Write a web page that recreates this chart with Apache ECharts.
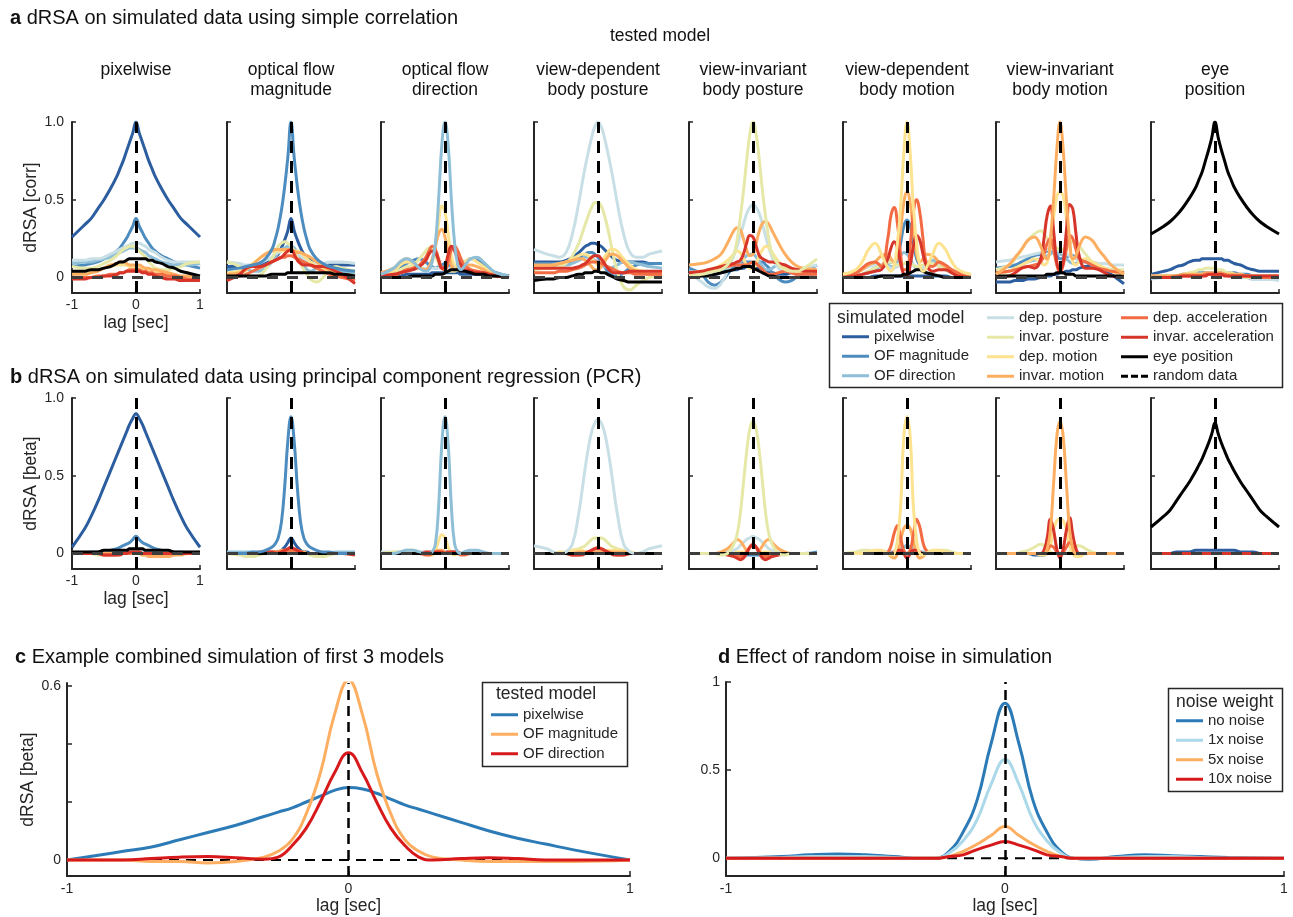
<!DOCTYPE html>
<html><head><meta charset="utf-8">
<script src="https://cdn.jsdelivr.net/npm/echarts/dist/echarts.min.js"></script>
<style>html,body{margin:0;padding:0;background:#fff;overflow:hidden}#chart{width:1293px;height:917px}</style>
</head><body><div id="chart"></div>
<script>
// ---------------- DATA ----------------
const lags = [-1,-0.8,-0.7,-0.6,-0.5,-0.4,-0.3,-0.25,-0.2,-0.15,-0.1,-0.05,0,0.05,0.1,0.15,0.2,0.25,0.3,0.4,0.5,0.6,0.7,0.8,1];
const modelNames = ['pixelwise','OF magnitude','OF direction','dep. posture','invar. posture','dep. motion','invar. motion','dep. acceleration','invar. acceleration','eye position'];
const modelColors = ['#2c5d9f','#4d8cbf','#8ebfd6','#c8dfe6','#e6e8a7','#fde38f','#fdae61','#f26b43','#d8352a','#000000'];
const testedIndex = [0,1,2,3,4,5,6,9];
const panelTitles = ['pixelwise','optical flow\nmagnitude','optical flow\ndirection','view-dependent\nbody posture','view-invariant\nbody posture','view-dependent\nbody motion','view-invariant\nbody motion','eye\nposition'];
const xTicks = [-1,0,1];
const yTicksSmall = [0,0.5,1];
const yTicksC = [0,0.2,0.4,0.6];
const yLabelsC = [0,0.6];
const yTicksD = [0,0.5,1];
const nearZero = [0,0,0,0,0, 0,0,0,0,0, 0,0,0,0,0, 0,0,0,0,0, 0,0,0,0,0];
const randomCorr = [0,0,0,0,0, 0,0,0,0,0, 0,0,0,0,0, 0,0,0,0,0, 0,0,0,0,0];
const randomPcr = [0,0,0,0,0, 0,0,0,0,0, 0,0,0,0,0, 0,0,0,0,0, 0,0,0,0,0];

// a) simple correlation, one array per tested model; rows = simulated models
const corr1 = [
 [.26,.34,.38,.44,.50, .57,.65,.70,.75,.81, .87,.93,1.0,.93,.87, .81,.75,.70,.65,.57, .50,.44,.38,.34,.26],
 [.07,.08,.09,.10,.12, .14,.17,.19,.22,.25, .29,.33,.38,.33,.29, .25,.22,.19,.17,.14, .12,.10,.09,.08,.06],
 [.09,.10,.10,.11,.12, .13,.15,.16,.17,.18, .19,.19,.19,.18,.17, .16,.14,.13,.12,.10, .09,.08,.08,.08,.09],
 [.11,.11,.12,.12,.13, .15,.17,.18,.19,.20, .21,.22,.22,.22,.21, .20,.18,.17,.16,.13, .11,.10,.10,.10,.10],
 [.07,.06,.06,.07,.09, .11,.14,.16,.18,.19, .20,.20,.19,.17,.15, .13,.10,.08,.06,.05, .05,.06,.07,.09,.10],
 [.04,.04,.05,.05,.06, .07,.08,.08,.08,.08, .07,.07,.06,.06,.06, .06,.05,.05,.04,.03, .02,.01,.00,.00,.00],
 [.02,.02,.03,.04,.06, .08,.09,.10,.10,.09, .08,.08,.08,.08,.07, .06,.06,.05,.05,.04, .03,.02,.01,.01,.01],
 [.00,.00,.00,.01,.01, .02,.02,.03,.03,.04, .05,.05,.05,.05,.04, .04,.03,.03,.02,.02, .01,.01,.00,-.01,-.02],
 [-.01,-.01,.00,.00,.01, .01,.02,.03,.03,.04, .04,.04,.04,.04,.03, .03,.02,.02,.01,.00, -.01,-.01,-.02,-.02,-.02],
 [.04,.04,.05,.05,.06, .07,.09,.10,.10,.11, .12,.12,.12,.12,.12, .12,.11,.11,.10,.09, .07,.06,.04,.03,.01]
];
const corr2 = [
 [.07,.07,.07,.08,.08, .09,.11,.13,.15,.19, .24,.30,.38,.30,.24, .19,.15,.13,.11,.09, .08,.08,.08,.08,.08],
 [.05,.06,.07,.08,.09, .12,.18,.24,.32,.43, .58,.77,1.0,.77,.58, .43,.32,.24,.18,.12, .09,.07,.06,.05,.04],
 [.10,.08,.06,.04,.04, .06,.10,.13,.16,.18, .19,.20,.20,.19,.16, .12,.08,.05,.04,.06, .08,.07,.05,.04,.03],
 [.10,.09,.08,.08,.09, .11,.13,.15,.16,.17, .18,.18,.18,.17,.16, .14,.12,.11,.10,.09, .09,.10,.10,.10,.09],
 [.10,.07,.03,.00,.01, .05,.12,.16,.20,.22, .23,.22,.20,.17,.13, .09,.05,.02,-.01,-.03, .00,.05,.07,.06,.04],
 [.03,.04,.06,.09,.12, .15,.17,.17,.17,.17, .17,.17,.17,.17,.17, .16,.14,.12,.10,.07, .05,.03,.02,.01,.00],
 [.02,.03,.05,.08,.12, .15,.17,.18,.18,.18, .18,.18,.17,.17,.16, .16,.15,.14,.13,.10, .07,.05,.03,.02,.00],
 [.00,.01,.02,.04,.06, .08,.10,.11,.12,.13, .13,.14,.14,.13,.12, .11,.10,.09,.08,.06, .04,.02,.01,.00,-.02],
 [-.02,.02,.06,.07,.07, .08,.10,.11,.12,.13, .15,.17,.18,.15,.11, .09,.08,.08,.08,.07, .07,.06,.04,.02,-.04],
 [.01,.01,.01,.01,.01, .01,.02,.02,.02,.02, .02,.03,.03,.03,.03, .03,.03,.03,.03,.03, .03,.03,.02,.02,.01]
];
const corr3 = [
 [.01,.01,.01,.02,.02, .02,.02,.02,.03,.03, .03,.03,.03,.03,.03, .03,.03,.02,.02,.02, .02,.02,.01,.01,.01],
 [.01,.03,.06,.09,.11, .12,.10,.08,.07,.06, .07,.08,.09,.08,.07, .07,.08,.09,.10,.12, .11,.08,.05,.03,.01],
 [.02,.06,.10,.12,.10, .06,.04,.05,.10,.22, .50,.85,1.0,.85,.50, .22,.08,.05,.07,.12, .13,.10,.06,.03,.01],
 [.01,.02,.03,.04,.05, .06,.06,.06,.06,.06, .06,.06,.06,.06,.06, .06,.06,.06,.06,.05, .04,.03,.02,.02,.01],
 [.00,.02,.05,.07,.08, .12,.17,.19,.18,.14, .09,.06,.05,.04,.04, .04,.05,.05,.05,.04, .03,.02,.01,.01,.00],
 [.02,.04,.08,.10,.09, .06,.05,.06,.10,.20, .35,.46,.42,.28,.14, .08,.07,.08,.10,.12, .10,.07,.04,.02,.01],
 [.03,.06,.10,.12,.10, .06,.05,.07,.12,.20, .28,.31,.26,.16,.08, .05,.06,.07,.08,.08, .07,.05,.03,.02,.00],
 [.00,.01,.03,.05,.06, .08,.13,.17,.20,.18, .12,.06,.05,.10,.18, .20,.17,.12,.08,.05, .04,.03,.02,.01,.00],
 [.01,.02,.03,.04,.05, .07,.11,.15,.17,.16, .11,.06,.07,.15,.20, .17,.12,.08,.05,.04, .03,.03,.02,.01,.00],
 [.00,.00,.00,.00,.01, .01,.01,.01,.01,.02, .02,.02,.03,.04,.05, .05,.05,.04,.04,.03, .02,.02,.01,.01,.01]
];
const corr4 = [
 [.10,.10,.10,.10,.11, .13,.16,.18,.20,.21, .22,.22,.21,.20,.18, .16,.14,.12,.11,.10, .10,.10,.10,.09,.09],
 [.09,.09,.09,.09,.09, .10,.12,.14,.15,.16, .16,.15,.13,.10,.07, .04,.02,.01,.01,.03, .06,.08,.09,.09,.09],
 [.06,.07,.07,.08,.08, .09,.11,.12,.13,.13, .12,.11,.10,.08,.07, .06,.06,.07,.08,.10, .10,.09,.08,.07,.06],
 [.18,.15,.14,.13,.16, .28,.48,.60,.71,.81, .90,.97,1.0,.97,.90, .81,.71,.60,.48,.28, .16,.13,.13,.15,.17],
 [.05,.06,.06,.07,.09, .14,.22,.28,.34,.40, .45,.48,.48,.46,.40, .32,.22,.12,.04,-.06, -.08,-.05,-.02,.00,.01],
 [.07,.07,.08,.09,.10, .12,.14,.15,.15,.14, .12,.10,.08,.10,.13, .16,.18,.18,.17,.12, .08,.05,.04,.03,.03],
 [.08,.08,.08,.09,.10, .11,.12,.12,.11,.09, .07,.05,.05,.07,.10, .13,.15,.15,.14,.10, .06,.04,.03,.02,.02],
 [.03,.03,.03,.04,.04, .05,.06,.07,.08,.09, .10,.10,.10,.09,.08, .07,.06,.05,.04,.03, .03,.02,.02,.02,.02],
 [.06,.06,.06,.06,.06, .06,.07,.08,.09,.11, .13,.14,.14,.12,.09, .06,.04,.03,.03,.03, .04,.04,.04,.04,.04],
 [-.02,-.01,-.01,.00,.00, .01,.02,.02,.03,.03, .03,.04,.04,.03,.03, .02,.01,.00,-.01,-.02, -.03,-.03,-.03,-.03,-.03]
];
const corr5 = [
 [.05,.03,.02,.02,.03, .04,.05,.05,.06,.06, .07,.07,.07,.06,.06, .05,.04,.03,.03,.02, .02,.03,.03,.04,.04],
 [.06,.02,-.03,-.05,-.03, .02,.07,.09,.10,.10, .10,.10,.10,.10,.10, .10,.08,.06,.03,-.01, -.03,-.02,.01,.04,.08],
 [.04,.03,.02,.03,.04, .06,.08,.09,.10,.12, .14,.15,.15,.13,.10, .07,.05,.05,.06,.08, .07,.04,.02,.01,.01],
 [.03,-.03,-.06,-.07,-.04, .04,.14,.20,.27,.34, .41,.45,.47,.45,.41, .34,.26,.19,.13,.06, .04,.04,.05,.06,.08],
 [.01,.02,.03,.04,.05, .08,.15,.24,.38,.55, .75,.92,1.0,.92,.75, .55,.38,.24,.15,.08, .05,.04,.04,.06,.12],
 [.03,.04,.05,.06,.08, .11,.15,.17,.16,.12, .08,.06,.06,.09,.14, .18,.20,.19,.16,.10, .06,.04,.03,.03,.02],
 [.08,.09,.10,.12,.15, .22,.30,.32,.31,.25, .18,.14,.15,.22,.30, .35,.36,.34,.30,.22, .15,.10,.07,.06,.05],
 [.02,.03,.04,.05,.06, .07,.08,.08,.08,.08, .08,.09,.10,.09,.07, .05,.03,.02,.02,.03, .04,.03,.02,.02,.02],
 [.03,.04,.05,.06,.07, .08,.09,.10,.11,.15, .22,.27,.26,.20,.14, .12,.11,.10,.10,.09, .08,.06,.05,.04,.04],
 [.00,.01,.01,.02,.03, .04,.05,.06,.06,.07, .07,.07,.06,.05,.04, .03,.02,.01,.01,.00, .00,.00,.00,.00,.00]
];
const corr6 = [
 [.00,.00,.00,.00,.01, .01,.01,.01,.01,.01, .01,.01,.01,.01,.01, .01,.01,.01,.01,.01, .01,.01,.00,.00,.00],
 [.00,.01,.02,.03,.05, .08,.10,.10,.10,.12, .22,.33,.37,.33,.22, .12,.08,.06,.07,.09, .08,.05,.03,.01,.00],
 [.00,.01,.02,.04,.06, .08,.08,.07,.07,.10, .14,.16,.15,.12,.08, .06,.06,.07,.09,.11, .10,.07,.04,.02,.01],
 [.02,.03,.05,.07,.08, .08,.07,.06,.06,.07, .08,.09,.09,.09,.08, .07,.06,.06,.07,.08, .08,.07,.05,.03,.02],
 [.00,.01,.02,.04,.06, .08,.10,.10,.09,.08, .08,.09,.10,.09,.08, .07,.07,.08,.09,.09, .07,.05,.03,.02,.01],
 [.02,.05,.10,.18,.22, .15,.06,.04,.08,.22, .45,.80,1.0,.80,.45, .22,.08,.04,.06,.15, .22,.18,.10,.05,.02],
 [.02,.03,.05,.08,.10, .14,.15,.12,.10,.15, .30,.48,.55,.48,.30, .15,.10,.12,.15,.14, .10,.07,.04,.02,.01],
 [.01,.03,.06,.09,.10, .07,.25,.40,.45,.35, .15,.05,.05,.20,.42, .50,.42,.25,.10,.07, .10,.08,.05,.03,.01],
 [.00,.01,.02,.03,.04, .05,.12,.19,.23,.19, .09,.02,.01,.08,.20, .27,.24,.15,.08,.04, .05,.05,.03,.01,.00],
 [.00,.00,.00,.00,.00, .01,.01,.01,.01,.01, .01,.02,.02,.03,.04, .05,.05,.04,.03,.02, .01,.00,.00,.00,.00]
];
const corr7 = [
 [-.03,-.03,-.02,-.02,-.01, -.01,.00,.00,.01,.01, .02,.02,.03,.03,.04, .04,.05,.05,.06,.07, .08,.07,.05,.02,-.04],
 [.06,.07,.08,.10,.12, .14,.15,.16,.17,.17, .16,.14,.12,.12,.13, .14,.14,.13,.12,.10, .08,.06,.05,.04,.03],
 [.03,.04,.06,.08,.10, .11,.12,.13,.14,.15, .16,.16,.15,.14,.12, .10,.09,.09,.10,.10, .09,.07,.06,.05,.03],
 [.10,.11,.12,.13,.14, .15,.16,.17,.18,.18, .18,.18,.17,.16,.15, .14,.13,.12,.11,.10, .10,.09,.09,.08,.08],
 [.05,.08,.12,.18,.24, .28,.30,.28,.25,.22, .20,.19,.18,.18,.20, .22,.23,.22,.20,.15, .10,.07,.06,.05,.05],
 [.02,.04,.06,.08,.10, .12,.10,.08,.10,.20, .38,.52,.55,.52,.38, .20,.10,.08,.10,.12, .10,.08,.06,.04,.02],
 [.02,.08,.13,.18,.24, .26,.20,.14,.12,.25, .50,.82,1.0,.82,.50, .25,.12,.14,.20,.26, .24,.18,.13,.08,.02],
 [.03,.04,.05,.06,.07, .08,.10,.15,.22,.25, .18,.08,.03,.08,.18, .27,.25,.18,.12,.10, .08,.06,.05,.04,.03],
 [.00,.01,.03,.06,.07, .06,.12,.25,.40,.46, .30,.10,.05,.10,.30, .47,.44,.28,.14,.06, .06,.05,.03,.01,.00],
 [.01,.01,.01,.01,.01, .01,.01,.01,.02,.02, .02,.03,.03,.03,.02, .02,.02,.01,.01,.01, .01,.01,.01,.01,.01]
];
const corr8 = [
 [.02,.04,.05,.07,.08, .10,.11,.11,.12,.12, .12,.12,.12,.12,.12, .11,.11,.10,.09,.08, .06,.05,.04,.04,.04],
 [.00,.01,.01,.01,.02, .02,.03,.03,.03,.03, .03,.03,.03,.03,.03, .03,.03,.03,.03,.02, .02,.01,.01,.01,.01],
 [.00,.00,.01,.01,.01, .02,.02,.02,.02,.02, .03,.03,.03,.03,.03, .02,.02,.02,.01,.01, .00,-.01,-.01,-.01,-.01],
 [-.01,.00,.00,.01,.01, .01,.02,.02,.02,.02, .02,.02,.02,.02,.02, .02,.02,.01,.01,.00, .00,-.01,-.01,-.01,-.02],
 [.00,.01,.01,.01,.02, .03,.04,.05,.05,.06, .06,.06,.06,.05,.05, .04,.03,.03,.02,.01, .00,.00,.00,.00,.00],
 [.01,.01,.01,.01,.01, .02,.02,.02,.02,.02, .02,.02,.02,.02,.02, .02,.02,.02,.02,.01, .01,.01,.01,.01,.01],
 [.01,.01,.01,.01,.02, .02,.02,.02,.02,.03, .03,.03,.03,.03,.03, .02,.02,.02,.02,.02, .01,.01,.01,.01,.01],
 [.00,.00,.00,.01,.01, .01,.01,.01,.01,.02, .02,.02,.02,.02,.02, .02,.01,.01,.01,.01, .01,.00,.00,.00,.00],
 [.00,.00,.00,.00,.01, .01,.01,.01,.01,.01, .02,.02,.02,.02,.02, .01,.01,.01,.01,.01, .01,.01,.01,.01,.01],
 [.28,.33,.36,.40,.45, .51,.58,.63,.68,.75, .82,.90,1.0,.90,.82, .75,.68,.63,.58,.51, .45,.40,.36,.33,.28]
];

// b) principal component regression
const pcr1 = [
 [.04,.16,.24,.33,.43, .53,.63,.68,.73,.78, .83,.87,.90,.87,.83, .78,.73,.68,.63,.53, .43,.33,.24,.16,.04],
 [.00,.00,.01,.01,.01, .02,.03,.04,.05,.06, .07,.09,.11,.09,.07, .06,.05,.04,.03,.02, .01,.01,.01,.00,.00],
 [.00,.00,.00,.00,.00, .01,.01,.01,.01,.01, .02,.02,.02,.02,.02, .01,.01,.01,.01,.00, .00,.00,.00,.00,.00],
 [.01,.01,.01,.01,.01, .01,.01,.01,.01,.01, .01,.01,.01,.01,.01, .01,.01,.01,.01,.01, .01,.01,.01,.01,.01],
 [.00,.00,.00,-.01,-.01, -.01,.00,.00,.00,.00, .00,.00,.00,.00,.00, .00,-.01,-.01,-.01,-.01, .00,.00,.00,.00,.00],
 [.00,.00,.00,.00,.00, .00,.00,.00,.00,.00, .00,.00,.00,.00,-.01, -.01,-.01,-.01,-.01,-.01, -.01,-.01,.00,.00,.00],
 [.00,.00,.00,.00,.00, .00,.00,.00,.00,.00, .00,.00,.00,.00,-.01, -.01,-.02,-.02,-.02,-.02, -.02,-.01,-.01,.00,.00],
 [.00,.00,.00,.00,-.01, -.01,-.01,.00,.00,.00, .00,.01,.01,.01,.00, .00,.00,.00,.00,.00, .00,.00,.00,.00,.00],
 [.00,.00,.00,.00,-.01, -.01,-.01,-.01,.00,.00, .01,.01,.01,.01,.00, .00,.00,.00,.00,.00, .00,.00,.00,.00,.00],
 [.01,.01,.01,.01,.02, .02,.02,.02,.02,.02, .03,.03,.03,.03,.03, .02,.02,.02,.02,.02, .02,.01,.01,.01,.01]
];
const pcr2 = [
 [.00,.00,.00,.00,.00, .00,.00,.01,.01,.02, .04,.07,.10,.07,.04, .02,.01,.01,.00,.00, .00,.00,.00,.00,.00],
 [.00,.00,.00,.01,.01, .02,.04,.06,.10,.20, .42,.72,.88,.72,.42, .20,.10,.06,.04,.02, .01,.01,.00,.00,.00],
 [.01,.01,.01,.01,.00, .00,.00,.00,.00,.00, .01,.01,.01,.01,.01, .00,.00,.00,.00,.00, .00,.00,.01,.01,.01],
 nearZero,
 [.00,-.01,-.02,-.02,-.01, .00,.00,.00,.00,.00, .00,.00,.00,.00,.00, .00,.00,.00,-.01,-.02, -.02,-.01,.00,.00,.00],
 [.00,.00,.00,.00,.00, .00,.00,.01,.01,.01, .01,.02,.02,.02,.01, .01,.00,.00,.00,.00, .00,.00,.00,.00,.00],
 [.00,.00,.00,.00,.00, .00,.01,.01,.01,.02, .02,.02,.02,.02,.02, .01,.01,.00,.00,.00, .00,.00,.00,.00,.00],
 [.00,.00,.00,.00,.01, .01,.01,.01,.01,.01, .01,.02,.02,.02,.01, .01,.00,.00,.00,.00, .00,.00,.00,.00,.00],
 [.00,.00,.00,.00,.00, .01,.01,.00,.00,.01, .02,.03,.04,.03,.02, .01,.00,.00,.00,.00, .00,.00,.00,.00,-.01],
 nearZero
];
const pcr3 = [
 nearZero,
 [.00,.00,.00,.00,.00, .00,.00,.00,.00,.01, .01,.01,.01,.01,.01, .01,.00,.00,.00,.00, .00,.00,.00,.00,.00],
 [.00,.00,.01,.02,.02, .01,.00,.00,.01,.06, .30,.70,.88,.70,.30, .06,.01,.00,.01,.02, .02,.01,.00,.00,.00],
 [.01,.01,.01,.02,.02, .01,.01,.00,.00,.00, .00,.00,.00,.00,.00, .00,.00,.00,.01,.01, .01,.00,.00,.00,.00],
 [.00,.01,.01,.02,.02, .01,.00,.00,.00,.00, .00,.00,.00,.00,.00, .00,.00,.00,.00,.00, .00,.00,.00,.00,.00],
 [.00,.00,.00,.00,.00, .00,.00,-.01,-.01,.02, .08,.12,.10,.04,.00, -.01,.00,.00,.00,.00, .00,.00,.00,.00,.00],
 [.00,.00,.00,.00,.00, .00,.00,-.01,.00,.01, .02,.02,.01,.00,.00, .00,.00,.00,.00,.00, .00,.00,.00,.00,.00],
 [.00,.00,.00,.00,.00, .00,-.01,-.01,.00,.01, .01,.00,.00,.00,.01, .01,.00,-.01,-.01,.00, .00,.00,.00,.00,.00],
 [.00,.00,.00,.00,.00, .00,.01,.01,.01,.01, .01,.01,.00,.01,.01, .01,.01,.00,.00,.00, .00,.00,.00,.00,.00],
 nearZero
];
const pcr4 = [
 nearZero, nearZero, nearZero,
 [.05,.03,.01,.00,.01, .06,.26,.40,.55,.68, .78,.84,.86,.84,.78, .68,.55,.40,.26,.06, .01,.00,.01,.03,.05],
 [.00,.00,.00,.00,.01, .02,.03,.04,.05,.07, .09,.10,.10,.10,.09, .07,.05,.04,.03,.02, .01,.00,.00,.00,.00],
 [.00,.00,.00,.01,.01, .02,.02,.02,.01,.01, .00,.00,.00,.00,.01, .02,.02,.02,.02,.01, .01,.00,.00,.00,.00],
 [.00,.00,.00,.00,.00, .00,.01,.01,.01,.01, .01,.01,.01,.01,.01, .01,.01,.01,.01,.01, .00,.00,.00,.00,.00],
 [.00,.00,.00,.00,.00, -.01,-.01,.00,.00,.01, .02,.03,.04,.03,.02, .01,.00,.00,-.01,-.01, .00,.00,.00,.00,.00],
 [.00,.00,.00,.00,.00, -.01,-.01,-.01,.00,.01, .02,.03,.03,.03,.02, .01,.00,-.01,-.01,-.01, .00,.00,.00,.00,.00],
 nearZero
];
const pcr5 = [
 nearZero,
 [.00,.00,.00,.00,.00, .00,-.01,-.01,-.01,-.01, -.01,-.01,-.01,-.01,-.01, -.01,-.01,-.01,-.01,.00, .00,.00,.00,.00,.01],
 nearZero,
 [.00,.00,.00,.00,.00, .01,.02,.03,.05,.07, .09,.10,.11,.10,.09, .07,.05,.03,.02,.01, .00,.00,.00,.00,.00],
 [.00,.00,.00,.00,-.01, .00,.06,.12,.25,.45, .65,.80,.85,.80,.65, .45,.25,.12,.06,.00, -.01,.00,.00,.00,.00],
 [.00,.00,.00,.00,.00, .00,.00,.01,.01,.01, .00,.00,.00,.00,.00, .01,.01,.01,.00,.00, .00,.00,.00,.00,.00],
 [.00,.00,.00,.00,.01, .03,.07,.09,.08,.05, .02,.00,.00,.00,.02, .05,.08,.09,.07,.03, .01,.00,.00,.00,.00],
 [.00,.00,.00,.00,.00, .00,-.01,-.02,-.02,-.01, .01,.04,.05,.04,.01, -.01,-.02,-.02,-.01,.00, .00,.00,.00,.00,.00],
 [.00,.00,.00,.00,.00, -.01,-.02,-.03,-.04,-.03, .00,.04,.06,.04,.00, -.03,-.04,-.03,-.02,-.01, .00,.00,.00,.00,.00],
 nearZero
];
const pcr6 = [
 nearZero,
 [.00,.00,.00,.00,.00, .00,.00,.00,.00,.01, .02,.04,.05,.04,.02, .01,.00,.00,.00,.00, .00,.00,.00,.00,.00],
 [.00,.00,.00,.00,.00, .01,.01,.01,.01,.02, .03,.04,.05,.04,.03, .02,.01,.01,.00,.00, .00,.00,.00,.00,.00],
 nearZero,
 [.00,.01,.02,.02,.01, .00,.00,.00,.00,.00, .00,.00,.00,.00,.00, .00,.00,.00,.00,.01, .02,.02,.01,.00,.00],
 [.00,.00,.00,.01,.02, .02,.00,-.01,.00,.08, .30,.75,.88,.75,.30, .08,.00,-.01,.00,.02, .02,.01,.00,.00,.00],
 [.00,.00,.00,.00,.00, .00,.00,-.02,-.03,.00, .08,.16,.18,.16,.08, .00,-.03,-.02,.00,.00, .00,.00,.00,.00,.00],
 [.00,.00,.00,.00,.00, .00,.01,.05,.13,.18, .10,.02,.00,.02,.12, .22,.17,.07,.02,.00, .00,.00,.00,.00,.00],
 [.00,.00,.00,.00,.00, .00,.00,.00,.01,.02, .02,.00,-.03,.00,.02, .02,.01,.00,.00,.00, .00,.00,.00,.00,.00],
 nearZero
];
const pcr7 = [
 [.00,.00,.00,.00,.00, -.01,-.01,-.01,.00,.00, .00,.00,.00,.00,.00, .00,.00,.00,.00,.00, .00,.00,.00,.00,.00],
 nearZero, nearZero, nearZero,
 [.00,.00,.00,.01,.02, .04,.06,.05,.03,.01, .00,.00,.00,.00,.00, .01,.03,.05,.05,.03, .01,.00,.00,.00,.00],
 [.00,.00,.00,.00,.00, .00,-.01,-.01,.00,.05, .15,.21,.22,.21,.15, .05,.00,-.02,-.02,.00, .00,.00,.00,.00,.00],
 [.00,.00,.00,.00,.00, .00,.00,.00,.03,.15, .45,.75,.85,.75,.45, .15,.03,.00,.00,.00, .00,.00,.00,.00,.00],
 [.00,.00,.00,.00,.00, .00,.00,.00,.02,.05, .04,.01,.00,.01,.04, .07,.05,.02,.00,.00, .00,.00,.00,.00,.00],
 [.00,.00,.00,.00,.00, .00,.00,.02,.10,.22, .15,.03,-.03,.03,.15, .23,.12,.03,.00,.00, .00,.00,.00,.00,.00],
 nearZero
];
const pcr8 = [
 [.00,.00,.00,.01,.01, .01,.02,.02,.02,.02, .02,.02,.02,.02,.02, .02,.02,.02,.02,.01, .01,.01,.00,.00,.00],
 nearZero, nearZero, nearZero, nearZero, nearZero, nearZero, nearZero, nearZero,
 [.17,.24,.28,.34,.40, .46,.53,.57,.61,.66, .71,.77,.84,.77,.71, .66,.61,.57,.53,.46, .40,.34,.28,.24,.17]
];

// c) combined simulation of first 3 models
const combinedNames = ['pixelwise','OF magnitude','OF direction'];
const combinedColors = ['#2c7bb6','#fdae61','#d7191c'];
const combinedPixelwise = [.00,.03,.045,.07,.095, .12,.15,.165,.18,.20, .22,.24,.25,.245,.23, .21,.19,.175,.16,.13, .10,.075,.055,.035,.00];
const combinedOFmag = [.00,.00,-.005,-.005,-.01, -.005,.01,.03,.07,.16, .30,.50,.62,.50,.30, .16,.07,.03,.01,.00, -.005,-.005,-.005,-.005,.00];
const combinedOFdir = [.00,.00,.005,.01,.012, .008,.003,.01,.05,.11, .20,.30,.37,.30,.20, .11,.05,.01,.00,.005, .008,.005,.00,.00,.00];
const combinedRandom = [0,0,0,0,0, 0,0,0,0,0, 0,0,0,0,0, 0,0,0,0,0, 0,0,0,0,0];

// d) effect of random noise
const noiseNames = ['no noise','1x noise','5x noise','10x noise'];
const noiseColors = ['#2c7bb6','#abd9e9','#fdae61','#d7191c'];
const noNoise = [.00,.01,.02,.025,.02, .01,.00,.00,.04,.15, .33,.65,.88,.65,.33, .15,.04,.00,-.005,.01, .02,.015,.01,.005,.00];
const noise1x = [.00,.005,.01,.01,.01, .005,.00,.00,.03,.10, .22,.42,.56,.42,.22, .10,.03,.00,.00,.005, .01,.01,.005,.00,.00];
const noise5x = [.00,.00,.00,.00,.00, .00,.00,.00,.01,.04, .08,.13,.18,.13,.08, .04,.01,.00,.00,.00, .00,.00,.00,.00,.00];
const noise10x = [.00,.00,.00,.00,.00, .00,.00,.00,.01,.02, .05,.075,.095,.075,.05, .02,.01,.00,.00,.00, .00,.00,.00,.00,.00];
const noiseRandom = [0,0,0,0,0, 0,0,0,0,0, 0,0,0,0,0, 0,0,0,0,0, 0,0,0,0,0];

// ---------------- LAYOUT / BUILD ----------------
const FONT = '"Liberation Sans", Arial, Helvetica, sans-serif';
const AX = '#262626';
const TXT = '#111111';
const panelLeft = [72,227,381,534,689,843,996,1151];
const panelW = 128, rowH = 171, rowTop = [122, 398];
const corrPanels = [corr1,corr2,corr3,corr4,corr5,corr6,corr7,corr8];
const pcrPanels = [pcr1,pcr2,pcr3,pcr4,pcr5,pcr6,pcr7,pcr8];

const grids = [], xAxes = [], yAxes = [], series = [];

function pts(vals){ return lags.map((x,k)=>[x, vals[k]]); }
function lineSer(g, name, color, vals, width){
  return {type:'line', name, xAxisIndex:g, yAxisIndex:g, data:pts(vals), showSymbol:false, symbol:'none',
    smooth:0.45, lineStyle:{color, width}, itemStyle:{color}, silent:true, animation:false, z:2};
}
function zeroMark(g, width, dash){
  return {type:'line', name:'_zero', xAxisIndex:g, yAxisIndex:g, data:[], silent:true, animation:false, z:4,
    markLine:{silent:true, symbol:['none','none'], label:{show:false}, animation:false,
      lineStyle:{color:'#000', width, type:dash}, emphasis:{disabled:true}, data:[{xAxis:0}]}};
}
function axisCommon(){ return {axisLine:{show:true, onZero:false, lineStyle:{color:AX, width:2}}, splitLine:{show:false}}; }
const tickFont = 14, nameFont = 17.5;

for (let r=0;r<2;r++){
  for (let p=0;p<8;p++){
    const g = grids.length;
    const first = p===0;
    grids.push({left:panelLeft[p], top:rowTop[r], width:panelW, height:rowH, containLabel:false});
    xAxes.push(Object.assign(axisCommon(), {gridIndex:g, type:'value', min:-1, max:1,
      axisTick:{show:true, inside:true, length:4, customValues:xTicks, lineStyle:{color:AX, width:1.5}},
      axisLabel:{show:first, customValues:xTicks, color:AX, fontSize:tickFont, fontFamily:FONT, margin:5, formatter:v=>String(v)},
      name:first?'lag [sec]':'', nameLocation:'middle', nameGap:21, nameTextStyle:{color:AX, fontSize:nameFont, fontFamily:FONT}}));
    yAxes.push(Object.assign(axisCommon(), {gridIndex:g, type:'value', min:-0.1, max:1,
      axisTick:{show:true, inside:true, length:4, customValues:yTicksSmall, lineStyle:{color:AX, width:1.5}},
      axisLabel:{show:first, customValues:yTicksSmall, color:AX, fontSize:tickFont, fontFamily:FONT, margin:8,
        formatter:v=> v===1?'1.0':String(v)},
      name:first?(r===0?'dRSA [corr]':'dRSA [beta]'):'', nameLocation:'middle', nameGap:32, nameRotate:90,
      nameTextStyle:{color:AX, fontSize:nameFont, fontFamily:FONT}}));
    const data = r===0 ? corrPanels[p] : pcrPanels[p];
    const tested = testedIndex[p];
    const order = [];
    for (let i=0;i<9;i++) if (i!==tested) order.push(i);
    if (tested!==9) order.push(9);
    order.push(tested);
    order.forEach(i => series.push(lineSer(g, modelNames[i], modelColors[i], data[i], 3)));
    const rnd = lineSer(g, 'random data', '#3c3c3c', r===0?randomCorr:randomPcr, 3);
    rnd.lineStyle.type = [11,9]; rnd.z = 3; rnd.smooth = false;
    series.push(rnd);
    series.push(zeroMark(g, 3, [12,8]));
  }
}

// panel c
{
  const g = grids.length;
  grids.push({left:67, top:683, width:563, height:193});
  xAxes.push(Object.assign(axisCommon(), {gridIndex:g, type:'value', min:-1, max:1,
    axisTick:{show:true, inside:true, length:5, customValues:xTicks, lineStyle:{color:AX, width:1.5}},
    axisLabel:{show:true, customValues:xTicks, color:AX, fontSize:tickFont, fontFamily:FONT, margin:6, formatter:v=>String(v)},
    name:'lag [sec]', nameLocation:'middle', nameGap:21, nameTextStyle:{color:AX, fontSize:nameFont, fontFamily:FONT}}));
  yAxes.push(Object.assign(axisCommon(), {gridIndex:g, type:'value', min:-0.055, max:0.61,
    axisTick:{show:true, inside:true, length:5, customValues:yTicksC, lineStyle:{color:AX, width:1.5}},
    axisLabel:{show:true, customValues:yLabelsC, color:AX, fontSize:tickFont, fontFamily:FONT, margin:6, formatter:v=>String(v)},
    name:'dRSA [beta]', nameLocation:'middle', nameGap:28, nameRotate:90, nameTextStyle:{color:AX, fontSize:nameFont, fontFamily:FONT}}));
  const rnd = lineSer(g, 'random data', '#000', combinedRandom, 2); rnd.lineStyle.type=[10,7]; rnd.smooth=false;
  series.push(rnd);
  [combinedPixelwise, combinedOFmag, combinedOFdir].forEach((v,i)=> series.push(lineSer(g, combinedNames[i], combinedColors[i], v, 3)));
  series.push(zeroMark(g, 2.5, [10,6]));
}
// panel d
{
  const g = grids.length;
  grids.push({left:726, top:682, width:558, height:194});
  xAxes.push(Object.assign(axisCommon(), {gridIndex:g, type:'value', min:-1, max:1,
    axisTick:{show:true, inside:true, length:5, customValues:xTicks, lineStyle:{color:AX, width:1.5}},
    axisLabel:{show:true, customValues:xTicks, color:AX, fontSize:tickFont, fontFamily:FONT, margin:6, formatter:v=>String(v)},
    name:'lag [sec]', nameLocation:'middle', nameGap:21, nameTextStyle:{color:AX, fontSize:nameFont, fontFamily:FONT}}));
  yAxes.push(Object.assign(axisCommon(), {gridIndex:g, type:'value', min:-0.1, max:1,
    axisTick:{show:true, inside:true, length:5, customValues:yTicksD, lineStyle:{color:AX, width:1.5}},
    axisLabel:{show:true, customValues:yTicksD, color:AX, fontSize:tickFont, fontFamily:FONT, margin:6, formatter:v=>String(v)}}));
  const rnd = lineSer(g, 'random data', '#000', noiseRandom, 2); rnd.lineStyle.type=[10,7]; rnd.smooth=false;
  series.push(rnd);
  [noNoise, noise1x, noise5x, noise10x].forEach((v,i)=> series.push(lineSer(g, noiseNames[i], noiseColors[i], v, 3)));
  series.push(zeroMark(g, 2.5, [10,6]));
}

// legends
const legTxt = {color:AX, fontSize:15, fontFamily:FONT, lineHeight:19.5};
const dashIcon = 'path://M0,0H7V3H0Z M10,0H17V3H10Z M20,0H27V3H20Z';
function legend(left, top, data){
  return {show:true, left, top, orient:'vertical', itemGap:0, itemWidth:27, itemHeight:3, padding:0,
    icon:'rect', selectedMode:false, textStyle:legTxt, data};
}
const legends = [
  legend(842, 327, ['pixelwise','OF magnitude','OF direction']),
  legend(987, 308, ['dep. posture','invar. posture','dep. motion','invar. motion']),
  legend(1121, 308, ['dep. acceleration','invar. acceleration','eye position',
     {name:'random data', icon:dashIcon, itemStyle:{color:'#000'}}]),
  legend(491, 705, combinedNames.map((n,i)=>({name:n, itemStyle:{color:combinedColors[i]}}))),
  legend(1176, 711, noiseNames)
];

// text / frames
function txt(x, y, text, size, extra){
  return {type:'text', x, y, silent:true, z:10,
    style:Object.assign({text, fill:TXT, fontSize:size, fontFamily:FONT, align:'left', verticalAlign:'middle'}, extra||{})};
}
const richB = {b:{fontWeight:'bold', fill:TXT, color:TXT, fontFamily:FONT, fontSize:20}};
const graphics = [
  {type:'rect', silent:true, z:1, shape:{x:829.5, y:303.5, width:453, height:84}, style:{fill:'#fff', stroke:AX, lineWidth:1.5}},
  {type:'rect', silent:true, z:1, shape:{x:482.5, y:682.5, width:145, height:84}, style:{fill:'#fff', stroke:AX, lineWidth:1.5}},
  {type:'rect', silent:true, z:1, shape:{x:1168.5, y:688.5, width:114, height:103}, style:{fill:'#fff', stroke:AX, lineWidth:1.5}},
  txt(10, 18, '{b|a} dRSA on simulated data using simple correlation', 20, {rich:richB}),
  txt(660, 36, 'tested model', 17.5, {align:'center'}),
  txt(10, 377, '{b|b} dRSA on simulated data using principal component regression (PCR)', 20, {rich:richB}),
  txt(15, 657, '{b|c} Example combined simulation of first 3 models', 20, {rich:richB}),
  txt(718, 657, '{b|d} Effect of random noise in simulation', 20, {rich:richB}),
  txt(837, 318, 'simulated model', 17.5, {fill:AX}),
  txt(496, 694, 'tested model', 17.5, {fill:AX}),
  txt(1176, 702, 'noise weight', 17.5, {fill:AX})
];
panelTitles.forEach((t,p)=> graphics.push(txt(panelLeft[p]+panelW/2, 60, t, 17.5, {align:'center', verticalAlign:'top', lineHeight:20})));

const chart = echarts.init(document.getElementById('chart'), null, {renderer:'canvas'});
chart.setOption({
  animation:false, backgroundColor:'#fff',
  grid:grids, xAxis:xAxes, yAxis:yAxes, series, legend:legends,
  graphic:{elements:graphics}
});
</script>
</body></html>
